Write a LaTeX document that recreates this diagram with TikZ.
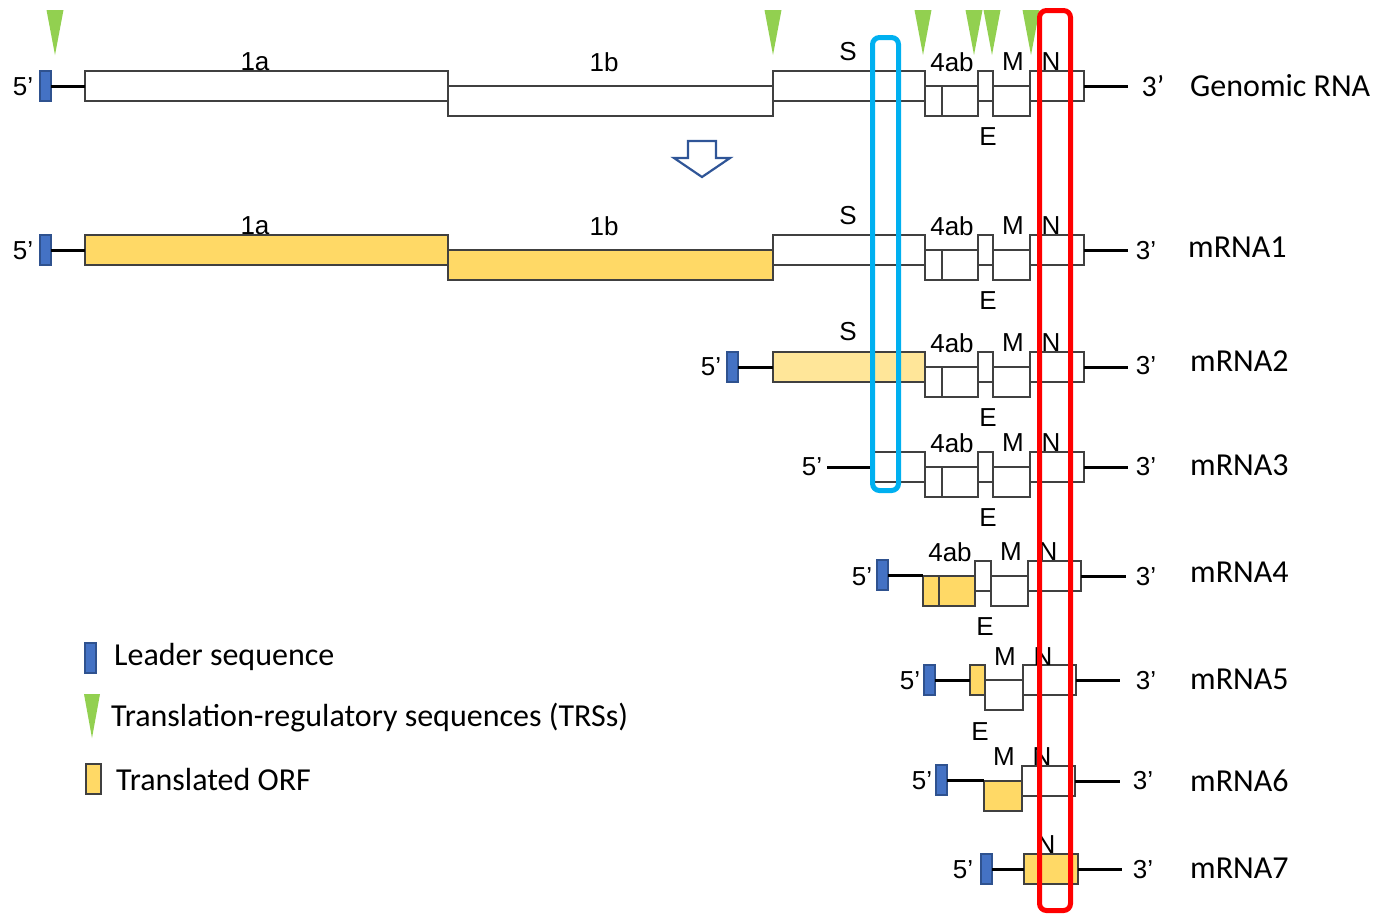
\documentclass[tikz,border=0pt]{standalone}
\usepackage{fontspec}
\setmainfont{Carlito}
\newfontfamily\arialf{Liberation Sans}
\definecolor{leadF}{HTML}{4472C4}
\definecolor{leadD}{HTML}{2F528F}
\definecolor{orf}{HTML}{FFD966}
\definecolor{orfL}{HTML}{FFE699}
\definecolor{trs}{HTML}{92D050}
\definecolor{cyanR}{HTML}{00B0F0}
\definecolor{redR}{HTML}{FF0000}
\definecolor{edgeC}{HTML}{404040}
\definecolor{arrowC}{HTML}{2F5597}
\newcommand\sg[6]{\node[#1,anchor=north west,minimum width={(#5)-(#3)},minimum height={(#6)-(#4)}] (#2) at (#3,#4) {};}
\newcommand\tailpart[2]{%
\sg{seg}{fa#1}{925}{#2+15}{942}{#2+45}
\sg{seg}{fb#1}{942}{#2+15}{978}{#2+45}
\sg{seg}{E#1}{978}{#2}{993}{#2+30}
\sg{seg}{M#1}{993}{#2+15}{1030}{#2+45}
\sg{seg}{N#1}{1030}{#2}{1084}{#2+30}
\coordinate (t#1) at (1128,#2+15);
\draw[conn] (N#1.east) -- (t#1);
\node[lab] (lab4ab#1) at (952,#2-9) {4ab};
\node[lab] (labM#1) at (1013,#2-9) {M};
\node[lab] (labN#1) at (1051,#2-9) {N};
\node[lab] (labE#1) at (988,#2+66) {E};
}
\begin{document}
\begin{tikzpicture}[x=1pt,y=-1pt,
  seg/.style={draw=edgeC,line width=1.2pt,fill=white,inner sep=0,outer sep=0},
  orfb/.style={seg,fill=orf},
  orfl/.style={seg,fill=orfL},
  lead/.style={draw=leadD,line width=1.5pt,fill=leadF,inner sep=0,outer sep=0},
  conn/.style={line width=3pt,black},
  lab/.style={font=\arialf\fontsize{26}{30}\selectfont,inner sep=0},
  rname/.style={font=\fontsize{32}{36}\selectfont,anchor=west,inner sep=0},
  legt/.style={font=\fontsize{32}{36}\selectfont,anchor=base west,inner sep=0},
  trsm/.style={fill=trs},
  frame/.style={line width=5pt,rounded corners=7pt}]
\useasboundingbox (0,0) rectangle (1375,914);

% Row 1: Genomic RNA
\sg{lead}{L1}{40}{71}{51}{101}
\sg{seg}{A1}{85}{71}{448}{101}
\sg{seg}{B1}{448}{86}{773}{116}
\sg{seg}{S1}{773}{71}{925}{101}
\tailpart{1}{71}
\draw[conn] (L1.east) -- (A1.west);
\node[lab] (p1) at (23,87) {5’};
\node[inner sep=0,font=\fontsize{30}{34}\selectfont] (q1) at (1153,86) {3’};
\node[rname] (n1) at (1190,86) {Genomic RNA};
\node[lab] (la1) at (255,62) {1a};
\node[lab] (lb1) at (604,62) {1b};
\node[lab] (ls1) at (848,52) {S};

% Row 2: mRNA1
\sg{lead}{L2}{40}{235}{51}{265}
\sg{orfb}{A2}{85}{235}{448}{265}
\sg{orfb}{B2}{448}{250}{773}{280}
\sg{seg}{S2}{773}{235}{925}{265}
\tailpart{2}{235}
\draw[conn] (L2.east) -- (A2.west);
\node[lab] (p2) at (23,251) {5’};
\node[lab] (q2) at (1146,251) {3’};
\node[rname] (n2) at (1188,247) {mRNA1};
\node[lab] (la2) at (255,226) {1a};
\node[lab] (lb2) at (604,226) {1b};
\node[lab] (ls2) at (848,216) {S};

% Row 3: mRNA2
\sg{lead}{L3}{727}{352}{738}{382}
\sg{orfl}{S3}{773}{352}{925}{382}
\tailpart{3}{352}
\draw[conn] (L3.east) -- (S3.west);
\node[lab] (p3) at (711,367) {5’};
\node[lab] (q3) at (1146,366) {3’};
\node[rname] (n3) at (1190,361) {mRNA2};
\node[lab] (ls3) at (848,332) {S};

% Row 4: mRNA3
\sg{seg}{S4}{872}{452}{925}{482}
\tailpart{4}{452}
\coordinate (s4) at (827,467);
\draw[conn] (s4) -- (S4.west);
\node[lab] (p4) at (812,467) {5’};
\node[lab] (q4) at (1146,467) {3’};
\node[rname] (n4) at (1190,465) {mRNA3};

% Row 5: mRNA4
\sg{lead}{L5}{877}{560}{888}{590}
\sg{orfb}{fa5}{923}{576}{939}{606}
\sg{orfb}{fb5}{939}{576}{975}{606}
\sg{seg}{E5}{975}{561}{991}{591}
\sg{seg}{M5}{991}{576}{1028}{606}
\sg{seg}{N5}{1028}{561}{1081}{591}
\coordinate (t5) at (1126,576);
\draw[conn] (L5.east) -- (L5.east -| fa5.west);
\draw[conn] (N5.east) -- (t5);
\node[lab] (lab4ab5) at (950,552) {4ab};
\node[lab] (labM5) at (1011,552) {M};
\node[lab] (labN5) at (1048,552) {N};
\node[lab] (labE5) at (985,627) {E};
\node[lab] (p5) at (862,577) {5’};
\node[lab] (q5) at (1146,577) {3’};
\node[rname] (n5) at (1190,572) {mRNA4};

% Row 6: mRNA5
\sg{lead}{L6}{924}{665}{935}{695}
\sg{orfb}{E6}{970}{665}{985}{695}
\sg{seg}{M6}{985}{680}{1023}{710}
\sg{seg}{N6}{1023}{665}{1076}{695}
\coordinate (t6) at (1120,680);
\draw[conn] (L6.east) -- (E6.west);
\draw[conn] (N6.east) -- (t6);
\node[lab] (labM6) at (1005,657) {M};
\node[lab] (labN6) at (1043,657) {N};
\node[lab] (labE6) at (980,732) {E};
\node[lab] (p6) at (910,681) {5’};
\node[lab] (q6) at (1146,681) {3’};
\node[rname] (n6) at (1190,679) {mRNA5};

% Row 7: mRNA6
\sg{lead}{L7}{936}{765}{947}{795}
\sg{orfb}{M7}{984}{781}{1022}{811}
\sg{seg}{N7}{1022}{766}{1075}{796}
\coordinate (t7) at (1120,781);
\draw[conn] (L7.east) -- (L7.east -| M7.west);
\draw[conn] (N7.east) -- (t7);
\node[lab] (labM7) at (1004,757) {M};
\node[lab] (labN7) at (1042,757) {N};
\node[lab] (p7) at (922,781) {5’};
\node[lab] (q7) at (1143,781) {3’};
\node[rname] (n7) at (1190,781) {mRNA6};

% Row 8: mRNA7
\sg{lead}{L8}{981}{854}{992}{884}
\sg{orfb}{N8}{1024}{854}{1078}{884}
\coordinate (t8) at (1122,869);
\draw[conn] (L8.east) -- (N8.west);
\draw[conn] (N8.east) -- (t8);
\node[lab] (labN8) at (1046,845) {N};
\node[lab] (p8) at (963,870) {5’};
\node[lab] (q8) at (1143,870) {3’};
\node[rname] (n8) at (1190,868) {mRNA7};

% TRS triangles
\foreach \tx in {55,773,923,974,992,1031}
  \fill[trsm] (\tx-8.5,10) -- (\tx+8.5,10) -- (\tx,55) -- cycle;

% hollow arrow
\draw[arrowC,line width=2.2pt,line join=miter] (688,141) -- (716,141) -- (716,158) -- (730,158) -- (702,177) -- (674,158) -- (688,158) -- cycle;

% Legend
\sg{lead}{lgL}{85}{643}{96}{673}
\node[legt] (lg1) at (114,665) {Leader sequence};
\fill[trsm] (84,694) -- (100,694) -- (92,738) -- cycle;
\node[legt] (lg2) at (111,726) {Translation-regulatory sequences (TRSs)};
\sg{orfb}{lgO}{86}{764}{101}{794}
\node[legt] (lg3) at (116,790) {Translated ORF};

% highlight frames
\draw[frame,cyanR] (872.5,37.5) rectangle (898.5,490.5);
\draw[frame,redR] (1039.5,10.5) rectangle (1070.5,910.5);
\end{tikzpicture}
\end{document}
